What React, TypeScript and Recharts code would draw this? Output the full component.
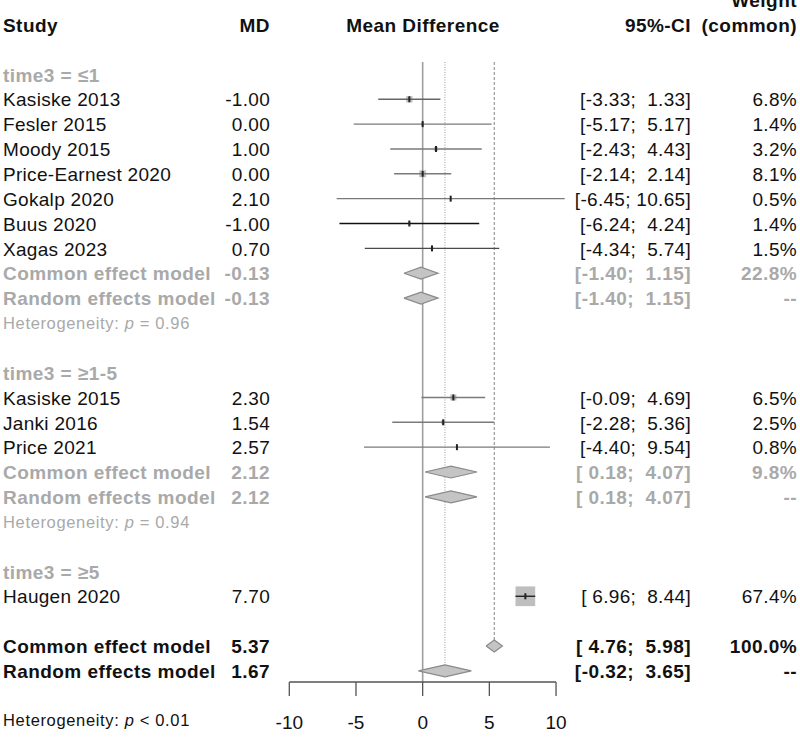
import React from "react";
import { ComposedChart, XAxis, YAxis, Scatter, ReferenceLine, ReferenceDot } from "recharts";

// Individual studies, in the order they are listed
const STUDY_NAMES = [
  "Kasiske 2013",
  "Fesler 2015",
  "Moody 2015",
  "Price-Earnest 2020",
  "Gokalp 2020",
  "Buus 2020",
  "Xagas 2023",
  "Kasiske 2015",
  "Janki 2016",
  "Price 2021",
  "Haugen 2020",
];
const STUDY_MD = [-1.0, 0.0, 1.0, 0.0, 2.1, -1.0, 0.7, 2.3, 1.54, 2.57, 7.7];
const STUDY_LOWER = [-3.33, -5.17, -2.43, -2.14, -6.45, -6.24, -4.34, -0.09, -2.28, -4.4, 6.96];
const STUDY_UPPER = [1.33, 5.17, 4.43, 2.14, 10.65, 4.24, 5.74, 4.69, 5.36, 9.54, 8.44];
const STUDY_WEIGHT = [6.8, 1.4, 3.2, 8.1, 0.5, 1.4, 1.5, 6.5, 2.5, 0.8, 67.4];
const STUDY_GROUP = [0, 0, 0, 0, 0, 0, 0, 1, 1, 1, 2];

const GROUP_LABELS = ["time3 = ≤1", "time3 = ≥1-5", "time3 = ≥5"];

// pooled results per subgroup (the last subgroup has a single study)
const GROUP_COMMON_MD = [-0.13, 2.12];
const GROUP_COMMON_LOWER = [-1.4, 0.18];
const GROUP_COMMON_UPPER = [1.15, 4.07];
const GROUP_COMMON_WEIGHT = [22.8, 9.8];
const GROUP_RANDOM_MD = [-0.13, 2.12];
const GROUP_RANDOM_LOWER = [-1.4, 0.18];
const GROUP_RANDOM_UPPER = [1.15, 4.07];
const GROUP_HET_P = ["= 0.96", "= 0.94"];

const OVERALL_LABELS = ["Common effect model", "Random effects model"];
const OVERALL_MD = [5.37, 1.67];
const OVERALL_LOWER = [4.76, -0.32];
const OVERALL_UPPER = [5.98, 3.65];
const OVERALL_WEIGHT: (number | null)[] = [100.0, null];
const OVERALL_HET_P = "< 0.01";

const X_TICKS = [-10, -5, 0, 5, 10];

// ---- layout ----
const WIDTH = 800;
const HEIGHT = 737;
const FONT = "'Liberation Sans', Arial, Helvetica, sans-serif";
const FS = 19;
const FS_SMALL = 16.5;
const BLACK = "#111111";
const GREY = "#a9a9a9";
const COL_STUDY = 3;
const COL_MD = 270;
const COL_PLOT = 423;
const COL_CI = 691;
const COL_WEIGHT = 797;
const BOX = 2.4; // square side per sqrt(weight)
const DIAMOND_HALF = 0.24; // half diamond height, in rows

const LINE_TONE: Record<string, string> = {
  "Kasiske 2013": "#666666",
  "Buus 2020": "#111111",
  "Xagas 2023": "#4a4a4a",
  "Haugen 2020": "#222222",
};

type Pooled = {
  label: string;
  md: number;
  lo: number;
  hi: number;
  weight: number | null;
  row: number;
  overall: boolean;
};
type Het = { row: number; p: string; overall: boolean };

// assign a row to every line of the table
const studyRows: number[] = [];
const groupRows: number[] = [];
const pooled: Pooled[] = [];
const hets: Het[] = [];
let r = -1;
GROUP_LABELS.forEach((_, g) => {
  groupRows.push(r++);
  STUDY_GROUP.forEach((sg, i) => {
    if (sg === g) studyRows[i] = r++;
  });
  if (g < GROUP_COMMON_MD.length) {
    pooled.push({
      label: "Common effect model",
      md: GROUP_COMMON_MD[g],
      lo: GROUP_COMMON_LOWER[g],
      hi: GROUP_COMMON_UPPER[g],
      weight: GROUP_COMMON_WEIGHT[g],
      row: r++,
      overall: false,
    });
    pooled.push({
      label: "Random effects model",
      md: GROUP_RANDOM_MD[g],
      lo: GROUP_RANDOM_LOWER[g],
      hi: GROUP_RANDOM_UPPER[g],
      weight: null,
      row: r++,
      overall: false,
    });
    hets.push({ row: r++, p: GROUP_HET_P[g], overall: false });
  }
  r++;
});
OVERALL_LABELS.forEach((label, k) => {
  pooled.push({
    label,
    md: OVERALL_MD[k],
    lo: OVERALL_LOWER[k],
    hi: OVERALL_UPPER[k],
    weight: OVERALL_WEIGHT[k],
    row: r++,
    overall: true,
  });
});
hets.push({ row: r + 1, p: OVERALL_HET_P, overall: true });

const ROW_TOP = -1.5;
const ROW_BOTTOM = r - 1 + 0.45;

const overallCommon = pooled[pooled.length - 2];
const overallRandom = pooled[pooled.length - 1];

const studyPoints = STUDY_NAMES.map((name, i) => ({
  name,
  x: STUDY_MD[i],
  y: studyRows[i],
  w: STUDY_WEIGHT[i],
}));

const fmt = (v: number) => v.toFixed(2);
const ciText = (lo: number, hi: number) => `[${fmt(lo).padStart(5)}; ${fmt(hi).padStart(5)}]`;
const pct = (w: number | null) => (w == null ? "--" : `${w.toFixed(1)}%`);

const Empty = () => <g />;

function Cell({
  x,
  cy,
  anchor = "start",
  bold = false,
  color = BLACK,
  size = FS,
  children,
}: {
  x: number;
  cy: number;
  anchor?: "start" | "middle" | "end";
  bold?: boolean;
  color?: string;
  size?: number;
  children: React.ReactNode;
}) {
  const small = size < FS;
  return (
    <text
      x={x}
      y={cy}
      dy={small ? "0.36em" : "0.38em"}
      textAnchor={anchor}
      fill={color}
      fontSize={size}
      fontWeight={bold ? 700 : 400}
      fontFamily={FONT}
      letterSpacing={small ? 0.65 : bold ? 0.45 : 0.3}
      style={{ whiteSpace: "pre" }}
    >
      {children}
    </text>
  );
}

// one text line of the table, positioned on the chart's row scale
function TableRow({ row, render }: { row: number; render: (cy: number) => React.ReactNode }) {
  return (
    <ReferenceDot
      x={0}
      y={row}
      r={0}
      ifOverflow="visible"
      shape={(p: any) => <g>{render(p.cy)}</g>}
    />
  );
}

export default function App() {
  return (
    <div style={{ position: "absolute", left: 0, top: 0, background: "#fff" }}>
      <ComposedChart
        width={WIDTH}
        height={HEIGHT}
        margin={{ top: 62, right: 235.3, bottom: 10, left: 289.3 }}
      >
        <XAxis
          type="number"
          dataKey="x"
          domain={[-10, 10.65]}
          ticks={X_TICKS}
          interval={0}
          height={45}
          axisLine={false}
          tickLine={{ stroke: "#555", strokeWidth: 1.3 }}
          tickSize={14}
          tickMargin={20}
          tick={{ fill: BLACK, fontSize: FS, fontFamily: FONT }}
        />
        <YAxis type="number" dataKey="y" domain={[ROW_TOP, ROW_BOTTOM]} reversed hide width={0} />

        {/* reference lines: no effect, random and common overall estimates */}
        <ReferenceLine x={0} stroke="#9e9e9e" strokeWidth={1.6} />
        <ReferenceLine
          segment={[
            { x: overallRandom.md, y: ROW_TOP },
            { x: overallRandom.md, y: overallRandom.row - DIAMOND_HALF },
          ]}
          stroke="#9a9a9a"
          strokeWidth={1}
          strokeDasharray="1 1.5"
        />
        <ReferenceLine
          segment={[
            { x: overallCommon.md, y: ROW_TOP },
            { x: overallCommon.md, y: overallCommon.row - DIAMOND_HALF },
          ]}
          stroke="#9a9a9a"
          strokeWidth={1.2}
          strokeDasharray="3 2"
        />
        {/* axis line only spans the tick range */}
        <ReferenceLine
          segment={[
            { x: X_TICKS[0], y: ROW_BOTTOM },
            { x: X_TICKS[X_TICKS.length - 1], y: ROW_BOTTOM },
          ]}
          stroke="#555"
          strokeWidth={1.3}
        />

        {/* weight squares */}
        <Scatter
          data={studyPoints}
          isAnimationActive={false}
          shape={(p: any) => {
            const s = BOX * Math.sqrt(p.payload.w);
            return <rect x={p.cx - s / 2} y={p.cy - s / 2} width={s} height={s} fill="#bebebe" />;
          }}
        />

        {/* confidence intervals */}
        {STUDY_NAMES.map((name, i) => (
          <Scatter
            key={`ci-${name}`}
            data={[
              { x: STUDY_LOWER[i], y: studyRows[i] },
              { x: STUDY_UPPER[i], y: studyRows[i] },
            ]}
            line={{ stroke: LINE_TONE[name] ?? "#7a7a7a", strokeWidth: 1.4 }}
            lineType="joint"
            shape={Empty}
            isAnimationActive={false}
          />
        ))}

        {/* point estimates */}
        <Scatter
          data={studyPoints}
          isAnimationActive={false}
          shape={(p: any) => <rect x={p.cx - 1} y={p.cy - 3} width={2} height={6} fill="#222" />}
        />

        {/* pooled diamonds */}
        {pooled.map((d) => (
          <Scatter
            key={`dm-${d.row}`}
            data={[
              { x: d.lo, y: d.row },
              { x: d.md, y: d.row - DIAMOND_HALF },
              { x: d.hi, y: d.row },
              { x: d.md, y: d.row + DIAMOND_HALF },
              { x: d.lo, y: d.row },
            ]}
            line={{ stroke: "#8a8a8a", strokeWidth: 1.2, fill: "#c4c4c4" }}
            lineType="joint"
            shape={Empty}
            isAnimationActive={false}
          />
        ))}

        {/* header */}
        <TableRow
          row={ROW_TOP - 2.5}
          render={(cy) => (
            <Cell x={COL_WEIGHT} cy={cy} anchor="end" bold>
              Weight
            </Cell>
          )}
        />
        <TableRow
          row={ROW_TOP - 1.5}
          render={(cy) => (
            <>
              <Cell x={COL_STUDY} cy={cy} bold>
                Study
              </Cell>
              <Cell x={COL_MD} cy={cy} anchor="end" bold>
                MD
              </Cell>
              <Cell x={COL_PLOT} cy={cy} anchor="middle" bold>
                Mean Difference
              </Cell>
              <Cell x={COL_CI} cy={cy} anchor="end" bold>
                95%-CI
              </Cell>
              <Cell x={COL_WEIGHT} cy={cy} anchor="end" bold>
                (common)
              </Cell>
            </>
          )}
        />

        {/* subgroup titles */}
        {GROUP_LABELS.map((label, g) => (
          <TableRow
            key={`g-${g}`}
            row={groupRows[g]}
            render={(cy) => (
              <Cell x={COL_STUDY} cy={cy} bold color={GREY}>
                {label}
              </Cell>
            )}
          />
        ))}

        {/* study lines */}
        {STUDY_NAMES.map((name, i) => (
          <TableRow
            key={`s-${name}`}
            row={studyRows[i]}
            render={(cy) => (
              <>
                <Cell x={COL_STUDY} cy={cy}>
                  {name}
                </Cell>
                <Cell x={COL_MD} cy={cy} anchor="end">
                  {fmt(STUDY_MD[i])}
                </Cell>
                <Cell x={COL_CI} cy={cy} anchor="end">
                  {ciText(STUDY_LOWER[i], STUDY_UPPER[i])}
                </Cell>
                <Cell x={COL_WEIGHT} cy={cy} anchor="end">
                  {pct(STUDY_WEIGHT[i])}
                </Cell>
              </>
            )}
          />
        ))}

        {/* pooled lines */}
        {pooled.map((d) => {
          const color = d.overall ? BLACK : GREY;
          return (
            <TableRow
              key={`p-${d.row}`}
              row={d.row}
              render={(cy) => (
                <>
                  <Cell x={COL_STUDY} cy={cy} bold color={color}>
                    {d.label}
                  </Cell>
                  <Cell x={COL_MD} cy={cy} anchor="end" bold color={color}>
                    {fmt(d.md)}
                  </Cell>
                  <Cell x={COL_CI} cy={cy} anchor="end" bold color={color}>
                    {ciText(d.lo, d.hi)}
                  </Cell>
                  <Cell x={COL_WEIGHT} cy={cy} anchor="end" bold color={color}>
                    {pct(d.weight)}
                  </Cell>
                </>
              )}
            />
          );
        })}

        {/* heterogeneity lines */}
        {hets.map((h) => (
          <TableRow
            key={`h-${h.row}`}
            row={h.row}
            render={(cy) => (
              <Cell x={COL_STUDY} cy={cy} size={FS_SMALL} color={h.overall ? BLACK : GREY}>
                Heterogeneity: <tspan fontStyle="italic">p</tspan> {h.p}
              </Cell>
            )}
          />
        ))}
      </ComposedChart>
    </div>
  );
}
